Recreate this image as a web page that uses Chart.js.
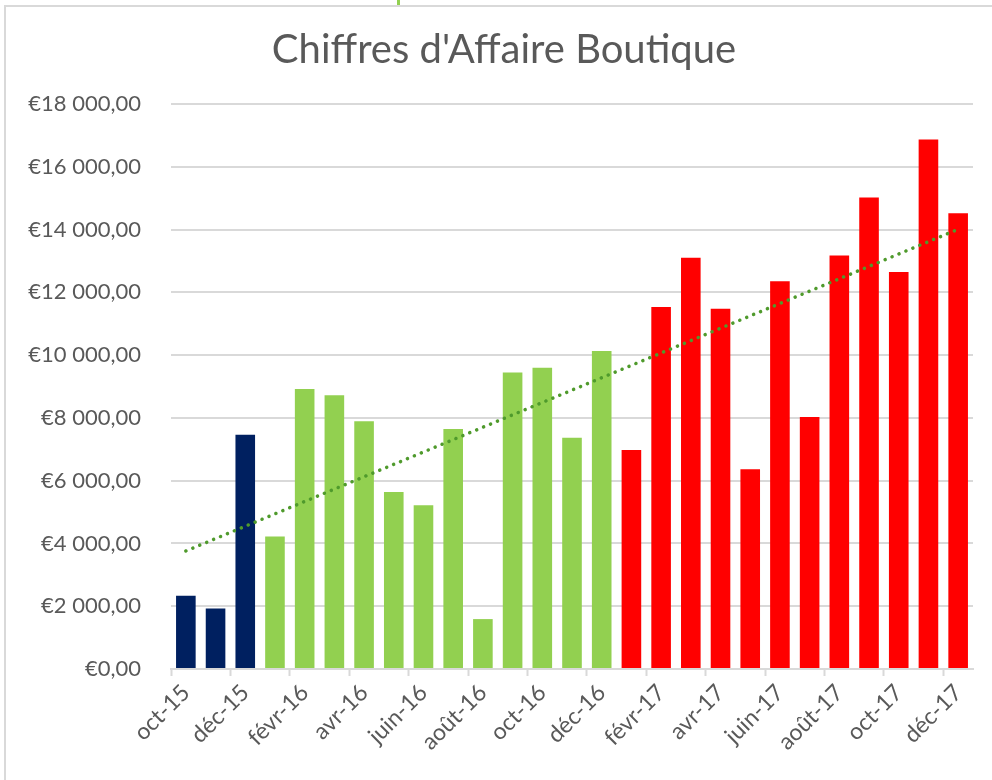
<!DOCTYPE html>
<html lang="fr">
<head>
  <meta charset="utf-8">
  <title>Chiffres d'Affaire Boutique</title>
  <script src="https://cdn.jsdelivr.net/npm/chart.js@4/dist/chart.umd.min.js"></script>
  <style>
    html, body { margin: 0; padding: 0; background: #fff; }
    #wrap { position: relative; width: 992px; height: 780px; overflow: hidden; }
    #frame { position: absolute; left: 4px; top: 5px; right: -4px; bottom: -4px;
             border-top: 2px solid #d9d9d9; border-left: 2px solid #d9d9d9; }
    #mark { position: absolute; left: 397px; top: 0; width: 3px; height: 5px; background: #92d050; }
    #chart { position: absolute; left: 0; top: 0; }
  </style>
</head>
<body>
  <div id="wrap">
    <div id="frame"></div>
    <div id="mark"></div>
    <canvas id="chart" width="992" height="780"></canvas>
  </div>
<script>
  // mois (axe X)
  var mois = ['oct-15', 'nov-15', 'déc-15',
    'janv-16', 'févr-16', 'mars-16', 'avr-16', 'mai-16', 'juin-16',
    'juil-16', 'août-16', 'sept-16', 'oct-16', 'nov-16', 'déc-16',
    'janv-17', 'févr-17', 'mars-17', 'avr-17', 'mai-17', 'juin-17',
    'juil-17', 'août-17', 'sept-17', 'oct-17', 'nov-17', 'déc-17'];

  // chiffre d'affaire mensuel (EUR)
  var ventes = [2330, 1930, 7460,
    4220, 8920, 8720, 7890, 5640, 5220,
    7650, 1590, 9450, 9600, 7370, 10130,
    6980, 11530, 13100, 11480, 6360, 12350,
    8030, 13170, 15020, 12650, 16870, 14520];

  // courbe de tendance : valeurs lues au debut et a la fin
  var tendance = [3760, null, null, null, null, null, null, null, null,
    null, null, null, null, null, null, null, null, null, null, null,
    null, null, null, null, null, null, 14010];

  var couleurAnnee = { '15': '#002060', '16': '#92d050', '17': '#ff0000' };
  var couleurs = mois.map(function (m) { return couleurAnnee[m.slice(-2)]; });

  var gris = '#595959';
  var police = "'Lato', 'Noto Sans', sans-serif";

  function euro(v) {
    var s = String(Math.round(v)).replace(/\B(?=(\d{3})+(?!\d))/g, ' ');
    return '€' + s + ',00';
  }

  var config = {
    type: 'bar',
    data: {
      labels: mois,
      datasets: [{
        type: 'line',
        data: tendance,
        spanGaps: true,
        borderColor: '#4f9a2c',
        borderWidth: 3.5,
        borderDash: [0.1, 7.4],
        borderCapStyle: 'round',
        pointRadius: 0,
        fill: false,
        order: 0
      }, {
        data: ventes,
        backgroundColor: couleurs,
        borderWidth: 0,
        categoryPercentage: 1,
        barPercentage: 0.66,
        order: 1
      }]
    },
    options: {
      responsive: false,
      animation: false,
      devicePixelRatio: 1,
      layout: { padding: { left: 10, top: 10, right: 19, bottom: 0 } },
      plugins: {
        legend: { display: false },
        tooltip: { enabled: false },
        title: {
          display: true,
          // espaces en tete : le titre est un peu decale a droite dans l'original
          text: "\u2002\u2009Chiffres d'Affaire Boutique",
          color: gris,
          font: { family: police, size: 40, weight: 'normal' },
          padding: { top: 16, bottom: 30 }
        }
      },
      scales: {
        x: {
          offset: true,
          afterFit: function (scale) { scale.height = 111; },
          border: { display: true, color: '#d9d9d9', width: 2 },
          grid: {
            offset: true,
            drawOnChartArea: false,
            drawTicks: true,
            tickLength: 7,
            tickWidth: 2,
            tickColor: function (ctx) {
              return (ctx.index % 2 === 0 && ctx.index < mois.length) ? '#d9d9d9' : 'rgba(0,0,0,0)';
            }
          },
          ticks: {
            autoSkip: false,
            maxRotation: 45,
            minRotation: 45,
            color: gris,
            padding: 3,
            font: { family: police, size: 23 },
            callback: function (val, i) { return i % 2 === 0 ? mois[i] : ''; }
          }
        },
        y: {
          min: 0,
          max: 18000,
          afterFit: function (scale) { scale.width = 161; },
          border: { display: false },
          grid: { color: '#d9d9d9', lineWidth: 2, drawTicks: false },
          ticks: {
            stepSize: 2000,
            color: gris,
            padding: 30,
            font: { family: police, size: 22 },
            callback: function (v) { return euro(v); }
          }
        }
      }
    }
  };

  window.onload = function () {
    var ctx = document.getElementById('chart').getContext('2d');
    window.monGraphique = new Chart(ctx, config);
  };
</script>
</body>
</html>
